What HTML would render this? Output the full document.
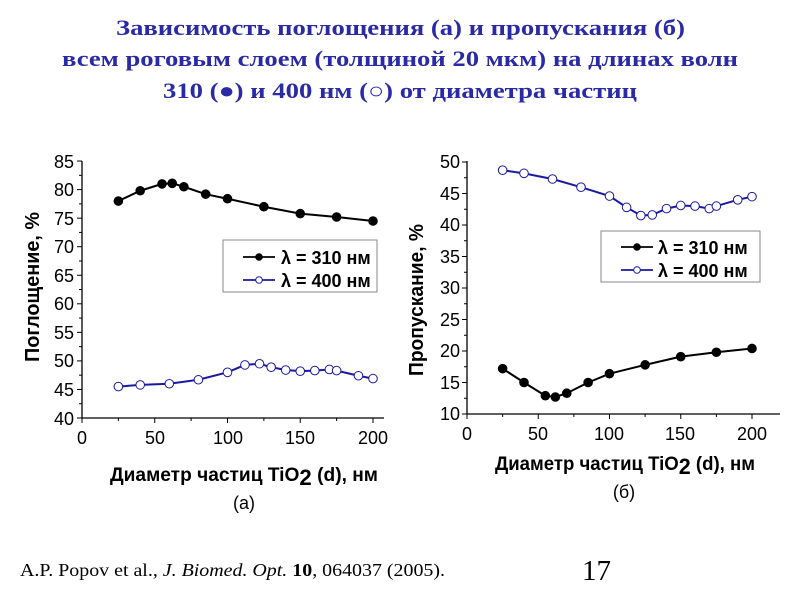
<!DOCTYPE html>
<html><head><meta charset="utf-8"><style>
body{margin:0;background:#fff;width:800px;height:600px;overflow:hidden}
svg{display:block}
.t{font-family:"Liberation Serif","Noto Serif CJK SC",serif;font-weight:bold;font-size:22px;fill:#2a2aa6}
.a{font-family:"Liberation Sans","Noto Sans CJK SC",sans-serif;font-size:18px;fill:#000}
.lg{font-family:"Liberation Sans","Noto Sans CJK SC",sans-serif;font-size:18px;fill:#000;font-weight:bold}
</style></head><body>
<svg id="s" width="800" height="600" xmlns="http://www.w3.org/2000/svg">
<text class="t" x="116" y="35" textLength="569" lengthAdjust="spacingAndGlyphs">Зависимость поглощения (а) и пропускания (б)</text>
<text class="t" x="62" y="66" textLength="676" lengthAdjust="spacingAndGlyphs">всем роговым слоем (толщиной 20 мкм) на длинах волн</text>
<text class="t" x="163" y="98" textLength="474" lengthAdjust="spacingAndGlyphs">310 (●) и 400 нм (○) от диаметра частиц</text>

<g class="a">
<text x="74" y="168" text-anchor="end">85</text><text x="74" y="196" text-anchor="end">80</text>
<text x="74" y="225" text-anchor="end">75</text><text x="74" y="253" text-anchor="end">70</text>
<text x="74" y="282" text-anchor="end">65</text><text x="74" y="310" text-anchor="end">60</text>
<text x="74" y="339" text-anchor="end">55</text><text x="74" y="367" text-anchor="end">50</text>
<text x="74" y="396" text-anchor="end">45</text><text x="74" y="425" text-anchor="end">40</text>
<text x="82" y="444" text-anchor="middle">0</text><text x="155" y="444" text-anchor="middle">50</text>
<text x="228" y="444" text-anchor="middle">100</text><text x="300" y="444" text-anchor="middle">150</text>
<text x="373" y="444" text-anchor="middle">200</text>
<text transform="translate(39,287) rotate(-90)" text-anchor="middle" font-weight="bold" font-size="20" textLength="150" lengthAdjust="spacingAndGlyphs">Поглощение, %</text>
<text x="110" y="481" font-weight="bold" font-size="19" textLength="268" lengthAdjust="spacingAndGlyphs">Диаметр частиц TiO<tspan font-size="22" dy="4">2</tspan><tspan dy="-4"> (d), нм</tspan></text>
<text x="244" y="509" text-anchor="middle">(a)</text>

<text x="460" y="168" text-anchor="end">50</text><text x="460" y="200" text-anchor="end">45</text>
<text x="460" y="231" text-anchor="end">40</text><text x="460" y="263" text-anchor="end">35</text>
<text x="460" y="294" text-anchor="end">30</text><text x="460" y="326" text-anchor="end">25</text>
<text x="460" y="357" text-anchor="end">20</text><text x="460" y="389" text-anchor="end">15</text>
<text x="460" y="420" text-anchor="end">10</text>
<text x="467" y="440" text-anchor="middle">0</text><text x="538" y="440" text-anchor="middle">50</text>
<text x="609" y="440" text-anchor="middle">100</text><text x="680" y="440" text-anchor="middle">150</text>
<text x="752" y="440" text-anchor="middle">200</text>
<text transform="translate(423,300) rotate(-90)" text-anchor="middle" font-weight="bold" font-size="20" textLength="152" lengthAdjust="spacingAndGlyphs">Пропускание, %</text>
<text x="495" y="470" font-weight="bold" font-size="19" textLength="260" lengthAdjust="spacingAndGlyphs">Диаметр частиц TiO<tspan font-size="22" dy="4">2</tspan><tspan dy="-4"> (d), нм</tspan></text>
<text x="624" y="498" text-anchor="middle">(б)</text>
</g>

<rect x="223" y="240" width="154" height="52" fill="#fff" stroke="#888"/>
<text class="lg" x="281" y="264">λ = 310 нм</text>
<text class="lg" x="281" y="287">λ = 400 нм</text>
<rect x="601" y="231" width="159" height="51" fill="#fff" stroke="#888"/>
<text class="lg" x="658" y="254">λ = 310 нм</text>
<text class="lg" x="658" y="277">λ = 400 нм</text>

<text x="20" y="576" font-family="Liberation Serif,serif" font-size="18" textLength="425" lengthAdjust="spacingAndGlyphs">A.P. Popov et al., <tspan font-style="italic">J. Biomed. Opt.</tspan> <tspan font-weight="bold">10</tspan>, 064037 (2005).</text>
<text x="582" y="580" font-family="Liberation Serif,serif" font-size="29">17</text>
<g id="g"></g>
</svg>
<script>
var g=document.getElementById('g'),NS='http://www.w3.org/2000/svg';
function el(n,a){var e=document.createElementNS(NS,n);for(var k in a)e.setAttribute(k,a[k]);g.appendChild(e);return e;}
function axes(x0,x1,y0,y1,xs,ys){
 el('line',{x1:x0,y1:y0,x2:x0,y2:y1,stroke:'#000','stroke-width':1.3});
 el('line',{x1:x0,y1:y0,x2:x1,y2:y0,stroke:'#000','stroke-width':1.3});
 xs.forEach(function(x,i){el('line',{x1:x,y1:y0,x2:x,y2:y0+(i%2?3:5),stroke:'#000'});});
 ys.forEach(function(y,i){el('line',{x1:x0,y1:y,x2:x0-(i%2?3:5),y2:y,stroke:'#000'});});
}
var xl=[],yl=[];for(var d=0;d<=200;d+=25)xl.push(82+d*1.455);for(var v=40;v<=85;v+=2.5)yl.push(418-(v-40)*5.71);
axes(82,384,418,161,xl,yl);
var xr=[],yr=[];for(d=0;d<=200;d+=25)xr.push(467+d*1.425);for(v=10;v<=50;v+=2.5)yr.push(414-(v-10)*6.3);
axes(467,780,414,161,xr,yr);
function ser(pts,fx,fy,col,open){
 var p=pts.map(function(q){return fx(q[0])+','+fy(q[1]);}).join(' ');
 el('polyline',{points:p,fill:'none',stroke:col,'stroke-width':2});
 pts.forEach(function(q){el('circle',{cx:fx(q[0]),cy:fy(q[1]),r:4.3,fill:open?'#fff':'#000',stroke:open?col:'#000','stroke-width':1});});
}
var LX=function(d){return 82+d*1.455},LY=function(v){return 418-(v-40)*5.71};
var RX=function(d){return 467+d*1.425},RY=function(v){return 414-(v-10)*6.3};
ser([[25,78],[40,79.8],[55,81],[62,81.1],[70,80.5],[85,79.2],[100,78.4],[125,77],[150,75.8],[175,75.2],[200,74.5]],LX,LY,'#000',0);
ser([[25,45.5],[40,45.8],[60,46],[80,46.7],[100,48],[112,49.3],[122,49.5],[130,48.9],[140,48.4],[150,48.2],[160,48.3],[170,48.5],[175,48.3],[190,47.4],[200,46.9]],LX,LY,'#1a1aa0',1);
ser([[25,48.7],[40,48.2],[60,47.3],[80,46],[100,44.6],[112,42.8],[122,41.5],[130,41.6],[140,42.6],[150,43.1],[160,43],[170,42.6],[175,43],[190,44],[200,44.5]],RX,RY,'#1a1aa0',1);
ser([[25,17.2],[40,15],[55,12.9],[62,12.7],[70,13.3],[85,15],[100,16.4],[125,17.8],[150,19.1],[175,19.8],[200,20.4]],RX,RY,'#000',0);
function leg(x1,x2,y,col,open){el('line',{x1:x1,y1:y,x2:x2,y2:y,stroke:col,'stroke-width':1.8});el('circle',{cx:(x1+x2)/2,cy:y,r:3.3,fill:open?'#fff':'#000',stroke:col});}
leg(243,275,257,'#000',0);leg(243,275,280,'#1a1aa0',1);
leg(621,653,247,'#000',0);leg(621,653,270,'#1a1aa0',1);
</script>
</body></html>
